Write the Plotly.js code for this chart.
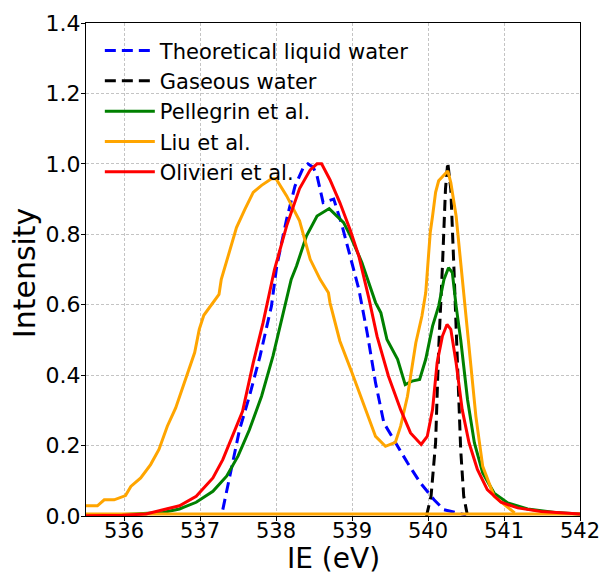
<!DOCTYPE html>
<html>
<head>
<meta charset="utf-8">
<script src="https://cdn.plot.ly/plotly-3.0.1.min.js"></script>
<style>html,body{margin:0;padding:0;background:#fff;}#chart{width:602px;height:576px;}</style>
</head>
<body>
<div id="chart"></div>
<script>
// Theoretical liquid water
const theoX = [537.30, 537.41, 537.52, 537.65, 537.79, 537.94, 538.01, 538.14, 538.25, 538.36, 538.42, 538.49, 538.54, 538.62, 538.76, 538.87, 539.00, 539.09, 539.20, 539.31, 539.42, 539.57, 539.73, 539.90, 540.08, 540.21, 540.35, 540.50];
const theoY = [0.018, 0.132, 0.245, 0.340, 0.454, 0.596, 0.710, 0.843, 0.937, 0.990, 1.000, 0.990, 0.966, 0.890, 0.900, 0.824, 0.720, 0.644, 0.520, 0.378, 0.264, 0.208, 0.151, 0.094, 0.046, 0.018, 0.010, 0.003];
// Gaseous water
const gasX = [539.98, 540.04, 540.10, 540.14, 540.19, 540.23, 540.26, 540.30, 540.34, 540.39, 540.43, 540.47, 540.52];
const gasY = [0.000, 0.056, 0.208, 0.473, 0.710, 0.928, 1.004, 0.928, 0.710, 0.425, 0.189, 0.056, 0.000];
// Pellegrin et al.
const pelX = [535.50, 536.00, 536.51, 536.73, 536.95, 537.17, 537.35, 537.50, 537.65, 537.81, 537.96, 538.09, 538.20, 538.27, 538.40, 538.54, 538.70, 538.89, 538.98, 539.13, 539.31, 539.38, 539.46, 539.60, 539.70, 539.79, 539.89, 539.97, 540.06, 540.14, 540.21, 540.27, 540.32, 540.37, 540.43, 540.52, 540.61, 540.72, 540.87, 541.05, 541.31, 541.67, 542.00];
const pelY = [0.001, 0.004, 0.010, 0.020, 0.039, 0.070, 0.113, 0.170, 0.245, 0.340, 0.454, 0.568, 0.672, 0.710, 0.795, 0.852, 0.873, 0.833, 0.795, 0.720, 0.606, 0.577, 0.501, 0.445, 0.373, 0.383, 0.388, 0.445, 0.539, 0.596, 0.672, 0.705, 0.691, 0.596, 0.501, 0.331, 0.208, 0.122, 0.065, 0.037, 0.020, 0.010, 0.006];
// Liu et al.
const liuX = [535.50, 535.65, 535.74, 535.87, 536.02, 536.09, 536.22, 536.35, 536.46, 536.57, 536.68, 536.82, 536.93, 536.99, 537.05, 537.25, 537.28, 537.37, 537.48, 537.59, 537.70, 537.81, 537.94, 538.00, 538.14, 538.31, 538.45, 538.58, 538.69, 538.71, 538.84, 539.00, 539.15, 539.31, 539.44, 539.57, 539.64, 539.73, 539.84, 539.92, 539.97, 540.03, 540.06, 540.10, 540.14, 540.20, 540.26, 540.30, 540.37, 540.43, 540.50, 540.56, 540.63, 540.72, 540.87, 541.14];
const liuY = [0.029, 0.029, 0.046, 0.046, 0.058, 0.084, 0.108, 0.146, 0.189, 0.255, 0.307, 0.397, 0.464, 0.530, 0.570, 0.629, 0.672, 0.738, 0.819, 0.871, 0.919, 0.939, 0.958, 0.958, 0.909, 0.838, 0.729, 0.672, 0.634, 0.606, 0.497, 0.407, 0.321, 0.226, 0.198, 0.209, 0.255, 0.340, 0.492, 0.568, 0.634, 0.806, 0.852, 0.919, 0.952, 0.965, 0.980, 0.947, 0.852, 0.720, 0.568, 0.425, 0.283, 0.141, 0.056, 0.009];
const liuBaseX = [535.5, 542.0];
const liuBaseY = [0.006, 0.006];
// Olivieri et al.
const olX = [535.50, 535.98, 536.29, 536.51, 536.73, 536.95, 537.17, 537.30, 537.43, 537.56, 537.70, 537.83, 537.98, 538.14, 538.31, 538.45, 538.54, 538.60, 538.71, 538.84, 538.98, 539.09, 539.22, 539.33, 539.48, 539.64, 539.77, 539.91, 539.99, 540.06, 540.12, 540.19, 540.25, 540.30, 540.37, 540.45, 540.54, 540.65, 540.78, 540.96, 541.18, 541.49, 542.00];
const olY = [0.001, 0.002, 0.006, 0.018, 0.029, 0.056, 0.108, 0.160, 0.226, 0.297, 0.435, 0.549, 0.700, 0.824, 0.930, 0.983, 1.000, 1.000, 0.955, 0.890, 0.810, 0.738, 0.620, 0.510, 0.397, 0.302, 0.236, 0.203, 0.226, 0.302, 0.435, 0.511, 0.544, 0.530, 0.435, 0.302, 0.208, 0.132, 0.075, 0.039, 0.023, 0.013, 0.006];

const xTicks = [536, 537, 538, 539, 540, 541, 542];
const yTicks = [0.0, 0.2, 0.4, 0.6, 0.8, 1.0, 1.2, 1.4];
const xTitle = 'IE (eV)';
const yTitle = 'Intensity';

const W = 3;
const traces = [
  {x: theoX, y: theoY, name: 'Theoretical liquid water', mode: 'lines', line: {color: '#0000ff', width: W, dash: '11px,6px'}},
  {x: gasX, y: gasY, name: 'Gaseous water', mode: 'lines', line: {color: '#000000', width: W, dash: '11px,6px'}},
  {x: pelX, y: pelY, name: 'Pellegrin et al.', mode: 'lines', line: {color: '#008000', width: W}},
  {x: liuX, y: liuY, name: 'Liu et al.', mode: 'lines', legendgroup: 'liu', line: {color: '#ffa500', width: W}},
  {x: liuBaseX, y: liuBaseY, name: 'Liu et al.', mode: 'lines', legendgroup: 'liu', showlegend: false, line: {color: '#ffa500', width: W}},
  {x: olX, y: olY, name: 'Olivieri et al.', mode: 'lines', line: {color: '#ff0000', width: W}}
];

const axisCommon = {
  showline: true, mirror: true, linecolor: '#000', linewidth: 1,
  ticks: 'outside', ticklen: 4, tickwidth: 1, tickcolor: '#000',
  showgrid: true, gridcolor: '#c4c4c4', gridwidth: 1, griddash: '3px,2px',
  zeroline: false, automargin: false,
  tickfont: {family: 'DejaVu Sans', size: 22, color: '#000'}
};

const layout = {
  width: 602, height: 576,
  margin: {l: 86, r: 22, t: 23, b: 60},
  paper_bgcolor: '#fff', plot_bgcolor: '#fff',
  font: {family: 'DejaVu Sans', color: '#000'},
  showlegend: true,
  legend: {x: 0.028, y: 0.985, xanchor: 'left', yanchor: 'top', bgcolor: 'rgba(0,0,0,0)', borderwidth: 0,
           itemwidth: 50,
           font: {family: 'DejaVu Sans', size: 21, color: '#000'}, tracegroupgap: 0},
  xaxis: Object.assign({}, axisCommon, {
    range: [535.5, 542], tickvals: xTicks, ticktext: xTicks.map(String), ticklabelstandoff: -8,
    tickfont: {family: 'DejaVu Sans', size: 21, color: '#000'}
  }),
  yaxis: Object.assign({}, axisCommon, {
    range: [0, 1.4], tickvals: yTicks, ticktext: yTicks.map(v => v.toFixed(1)), ticklabelstandoff: -4
  }),
  annotations: [
    {text: xTitle, xref: 'paper', yref: 'paper', x: 0.5, y: -0.1217, xanchor: 'center', yanchor: 'bottom',
     borderpad: 0, showarrow: false, font: {family: 'DejaVu Sans', size: 28, color: '#000'}},
    {text: yTitle, xref: 'paper', yref: 'paper', x: -0.124, y: 0.494, xanchor: 'center', yanchor: 'middle',
     textangle: -90, showarrow: false, font: {family: 'DejaVu Sans', size: 30, color: '#000'}}
  ]
};

Plotly.newPlot('chart', traces, layout, {displayModeBar: false, staticPlot: true});
</script>
</body>
</html>
